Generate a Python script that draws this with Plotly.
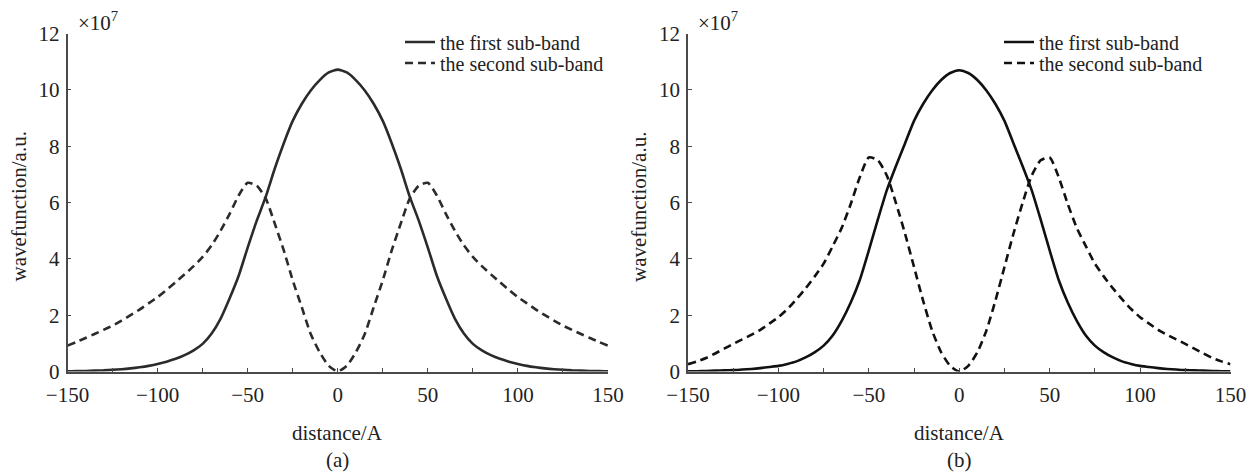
import plotly.graph_objects as go

# distance grid (Å), 5 Å steps, shared by both panels
distance = list(range(-150, 151, 5))

# panel (a), values in units of 1e7
a_first = [0.01, 0.02, 0.02, 0.03, 0.04, 0.06, 0.08, 0.11, 0.15, 0.20,
           0.27, 0.35, 0.45, 0.58, 0.75, 0.98, 1.35, 1.88, 2.60, 3.40,
           4.40, 5.35, 6.20, 7.20, 8.10, 8.90, 9.50, 9.98, 10.35, 10.62,
           10.72,
           10.62, 10.35, 9.98, 9.50, 8.90, 8.10, 7.20, 6.20, 5.35, 4.40,
           3.40, 2.60, 1.88, 1.35, 0.98, 0.75, 0.58, 0.45, 0.35, 0.27,
           0.20, 0.15, 0.11, 0.08, 0.06, 0.04, 0.03, 0.02, 0.02, 0.01]
a_second = [0.92, 1.05, 1.19, 1.33, 1.48, 1.63, 1.81, 2.00, 2.20, 2.42,
            2.64, 2.90, 3.17, 3.45, 3.74, 4.07, 4.48, 5.00, 5.60, 6.25,
            6.70, 6.60, 6.15, 5.26, 4.31, 3.24, 2.29, 1.33, 0.68, 0.20,
            0.00,
            0.20, 0.68, 1.33, 2.29, 3.24, 4.31, 5.26, 6.15, 6.60, 6.70,
            6.25, 5.60, 5.00, 4.48, 4.07, 3.74, 3.45, 3.17, 2.90, 2.64,
            2.42, 2.20, 2.00, 1.81, 1.63, 1.48, 1.33, 1.19, 1.05, 0.92]

# panel (b), values in units of 1e7
b_first = [0.01, 0.01, 0.02, 0.03, 0.04, 0.05, 0.07, 0.09, 0.12, 0.16,
           0.20, 0.27, 0.36, 0.50, 0.68, 0.92, 1.28, 1.80, 2.45, 3.25,
           4.30, 5.40, 6.45, 7.30, 8.10, 8.90, 9.50, 9.98, 10.35, 10.60,
           10.70,
           10.60, 10.35, 9.98, 9.50, 8.90, 8.10, 7.30, 6.45, 5.40, 4.30,
           3.25, 2.45, 1.80, 1.28, 0.92, 0.68, 0.50, 0.36, 0.27, 0.20,
           0.16, 0.12, 0.09, 0.07, 0.05, 0.04, 0.03, 0.02, 0.01, 0.01]
b_second = [0.26, 0.36, 0.48, 0.64, 0.81, 0.98, 1.14, 1.30, 1.48, 1.70,
            1.93, 2.22, 2.57, 2.95, 3.37, 3.83, 4.45, 5.10, 5.95, 6.90,
            7.60, 7.50, 6.95, 5.98, 4.90, 3.71, 2.52, 1.45, 0.68, 0.20,
            0.00,
            0.20, 0.68, 1.45, 2.52, 3.71, 4.90, 5.98, 6.95, 7.50, 7.60,
            6.90, 5.95, 5.10, 4.45, 3.83, 3.37, 2.95, 2.57, 2.22, 1.93,
            1.70, 1.48, 1.30, 1.14, 0.98, 0.81, 0.64, 0.48, 0.36, 0.26]

series_names = ["the first sub-band", "the second sub-band"]
panel_labels = ["(a)", "(b)"]
x_label = "distance/A"
y_label = "wavefunction/a.u."

W, H = 1250, 473
FONT = "'Liberation Serif', 'Times New Roman', Times, serif"
TXT = "#222222"
AXC = "#4a4a4a"


def px(v):
    return v / W


def py(v):
    return 1 - v / H


top, bottom = 33.6, 371.5
panels = [
    dict(x0=67.5, x1=608.0, first=a_first, second=a_second, color="#2b2b2b",
         legends=("legend", "legend2"), leg_x=400),
    dict(x0=688.0, x1=1230.5, first=b_first, second=b_second, color="#111111",
         legends=("legend3", "legend4"), leg_x=999),
]

fig = go.Figure()
for i, p in enumerate(panels):
    xa = "x" if i == 0 else "x2"
    ya = "y" if i == 0 else "y2"
    fig.add_trace(go.Scatter(
        x=distance, y=p["first"], mode="lines", name=series_names[0],
        line=dict(color=p["color"], width=2.6, shape="spline", smoothing=0.6),
        xaxis=xa, yaxis=ya, legend=p["legends"][0]))
    fig.add_trace(go.Scatter(
        x=distance, y=p["second"], mode="lines", name=series_names[1],
        line=dict(color=p["color"], width=2.6, dash="8px,5px", shape="spline",
                  smoothing=0.6),
        xaxis=xa, yaxis=ya, legend=p["legends"][1]))

axis_common = dict(showgrid=False, zeroline=False, showline=True,
                   linecolor=AXC, linewidth=1.6, ticks="inside",
                   ticklen=4, tickwidth=1.3, tickcolor=AXC, automargin=False,
                   tickfont=dict(family=FONT, size=21, color=TXT))

layout = dict(
    width=W, height=H, margin=dict(l=0, r=0, t=0, b=0),
    paper_bgcolor="white", plot_bgcolor="white",
    font=dict(family=FONT, size=20, color=TXT),
    showlegend=True,
)

annotations = []
for i, p in enumerate(panels):
    sfx = "" if i == 0 else "2"
    cx = (p["x0"] + p["x1"]) / 2
    layout["xaxis" + sfx] = dict(
        axis_common, domain=[px(p["x0"]), px(p["x1"])], range=[-150, 150],
        dtick=50, tick0=-150, anchor="y" + sfx, ticklabelstandoff=3,
        minor=dict(dtick=25, ticks="inside", ticklen=4, tickwidth=1.3,
                   tickcolor=AXC, showgrid=False))
    layout["yaxis" + sfx] = dict(
        axis_common, domain=[py(bottom), py(top)], range=[0, 12], dtick=2,
        anchor="x" + sfx, ticklabelstandoff=2)
    for k, lg in enumerate(p["legends"]):
        layout[lg] = dict(
            x=px(p["leg_x"]), y=py(42 + 21 * k), xanchor="left",
            yanchor="middle", bgcolor="rgba(0,0,0,0)", borderwidth=0,
            font=dict(family=FONT, size=20, color=TXT))
    # axis titles
    annotations.append(dict(
        text=x_label, x=px(cx), y=py(433), xref="paper", yref="paper",
        xanchor="center", yanchor="middle", showarrow=False,
        font=dict(family=FONT, size=21, color=TXT)))
    annotations.append(dict(
        text=y_label, x=px(p["x0"] - 49), y=py(207), xref="paper",
        yref="paper", xanchor="center", yanchor="middle", textangle=-90,
        showarrow=False, font=dict(family=FONT, size=21, color=TXT)))
    # exponent of the y scale
    annotations.append(dict(
        text="×10<sup>7</sup>", x=px(p["x0"] + 8), y=py(21), xref="paper",
        yref="paper", xanchor="left", yanchor="middle", showarrow=False,
        font=dict(family=FONT, size=21, color=TXT)))
    # panel label
    annotations.append(dict(
        text=panel_labels[i], x=px(cx), y=py(460), xref="paper",
        yref="paper", xanchor="center", yanchor="middle", showarrow=False,
        font=dict(family=FONT, size=21, color=TXT)))

layout["annotations"] = annotations
fig.update_layout(**layout)
fig.write_html("out.html")
